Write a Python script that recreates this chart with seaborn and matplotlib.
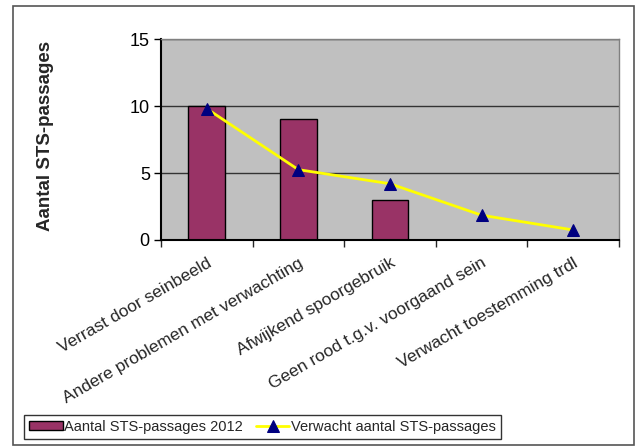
import matplotlib
matplotlib.use("Agg")
import matplotlib.pyplot as plt
import numpy as np
import seaborn as sns
from matplotlib.patches import Rectangle

categories = ["Verrast door seinbeeld", "Andere problemen met verwachting",
              "Afwijkend spoorgebruik", "Geen rood t.g.v. voorgaand sein",
              "Verwacht toestemming trdl"]
actual_2012 = [10, 9, 3, 0, 0]
expected = [9.8, 5.25, 4.2, 1.85, 0.75]

sns.set_theme(style="white")
plt.rcParams["font.family"] = ["Liberation Sans", "DejaVu Sans"]

fig = plt.figure(figsize=(6.37, 4.48), dpi=100)
ax = fig.add_axes([0.2527, 0.4643, 0.719, 0.4486])
ax.set_facecolor("#C0C0C0")

sns.barplot(x=categories, y=actual_2012, color="#993366", width=0.4,
            edgecolor="black", linewidth=1, saturation=1, ax=ax,
            label="Aantal STS-passages 2012", zorder=2)
sns.lineplot(x=np.arange(len(categories)), y=expected, color="#FFFF00", lw=2,
             marker="^", markersize=9, markerfacecolor="#000080",
             markeredgecolor="#000080", ax=ax, label="Verwacht aantal STS-passages",
             zorder=3)

ax.set_xlim(-0.5, len(categories) - 0.5)
ax.set_ylim(0, 15)
ax.set_yticks([0, 5, 10, 15])
ax.yaxis.grid(True, color="#333333", lw=1)
ax.set_axisbelow(True)
ax.tick_params(axis="y", left=True, length=5, width=1, labelsize=13, pad=3, colors="black")
ax.set_xticks(np.arange(-0.5, len(categories)), minor=True)
ax.tick_params(axis="x", which="minor", bottom=True, length=5, width=1)
ax.tick_params(axis="x", which="major", length=0, labelsize=12.5, pad=11)
ax.set_xticks(np.arange(len(categories)))
ax.set_xticklabels(categories, rotation=30, ha="right", rotation_mode="anchor")
ax.set_xlabel("")
ax.set_ylabel("")
for side in ["left", "bottom"]:
    ax.spines[side].set_color("black")
    ax.spines[side].set_linewidth(1.5)
for side in ["top", "right"]:
    ax.spines[side].set_color("#808080")
    ax.spines[side].set_linewidth(1)

fig.text(0.072, 0.696, "Aantal STS-passages", rotation=90, ha="center", va="center",
         fontsize=13.5, fontweight="bold")

# bars first in the legend
handles, labels = ax.get_legend_handles_labels()
order = [labels.index("Aantal STS-passages 2012"), labels.index("Verwacht aantal STS-passages")]
if ax.legend_:
    ax.legend_.remove()
leg = fig.legend([handles[i] for i in order], [labels[i] for i in order],
                 loc="center", bbox_to_anchor=(0.412, 0.047), ncol=2,
                 fontsize=10.5, frameon=True, fancybox=False, edgecolor="black",
                 handlelength=2.3, handleheight=0.55, handletextpad=0.1,
                 columnspacing=0.9, borderpad=0.35)
leg.get_frame().set_linewidth(1)

fig.patches.append(Rectangle((13 / 637, 3 / 448), 621 / 637, 439 / 448,
                             transform=fig.transFigure, fill=False,
                             edgecolor="#555555", lw=1.2))

fig.savefig("out.png", dpi=100)
